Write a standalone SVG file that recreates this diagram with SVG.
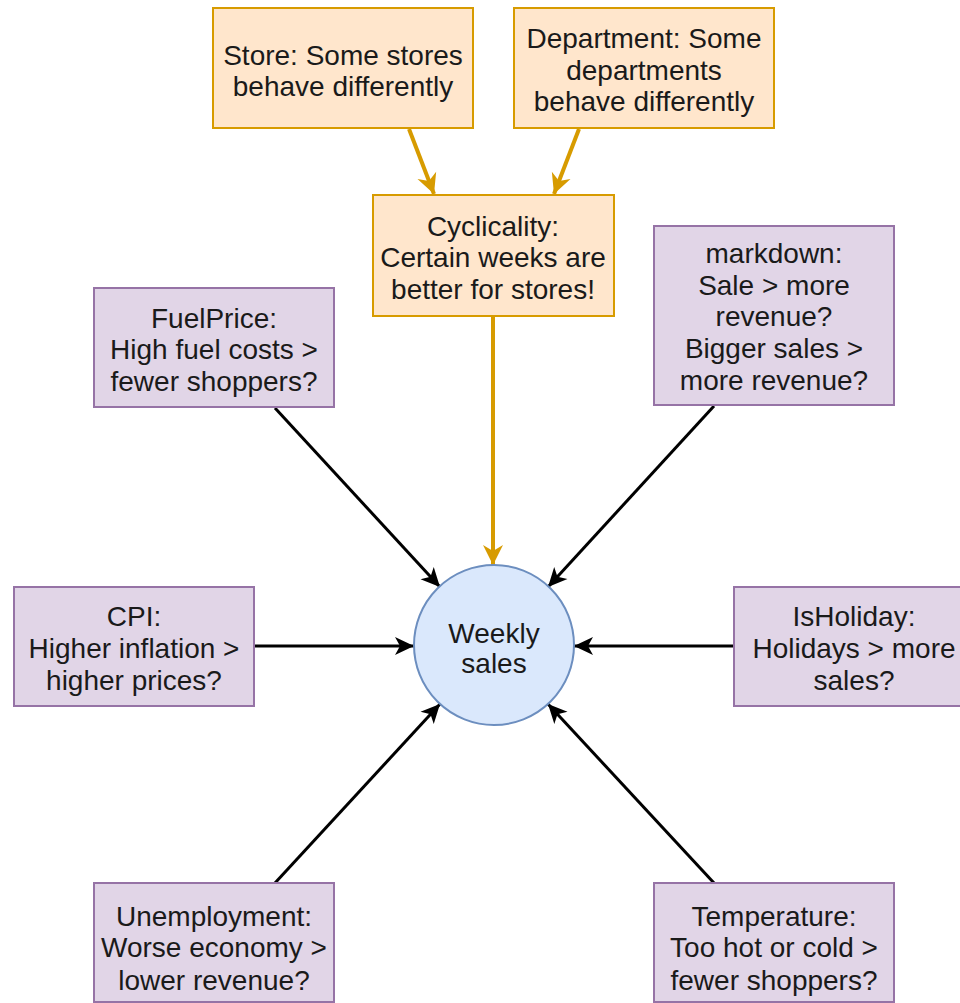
<svg xmlns="http://www.w3.org/2000/svg" width="960" height="1003" viewBox="0 0 960 1003">
<style>
.o{fill:#ffe6cc;stroke:#d79b00;stroke-width:2}
.p{fill:#e1d5e7;stroke:#9673a6;stroke-width:2}
.c{fill:#dae8fc;stroke:#6c8ebf;stroke-width:2}
text{font-family:"Liberation Sans",Arial,sans-serif;font-size:28px;fill:#1a1a1a;text-anchor:middle;dominant-baseline:central}
.eo{stroke:#d79b00;stroke-width:4;fill:none}
.eb{stroke:#000;stroke-width:3;fill:none}
</style>
<defs>
<marker id="ao" markerUnits="userSpaceOnUse" markerWidth="24" markerHeight="24" viewBox="0 0 24 24" refX="22" refY="12" orient="auto">
<path d="M2,2 L22,12 L2,22 L8,12 z" fill="#d79b00"/>
</marker>
<marker id="ab" markerUnits="userSpaceOnUse" markerWidth="22" markerHeight="22" viewBox="0 0 22 22" refX="21" refY="11" orient="auto">
<path d="M2,2 L21,11 L2,20 L7,11 z" fill="#000"/>
</marker>
</defs>
<g id="edges">
<line class="eo" x1="409" y1="129" x2="434" y2="194" marker-end="url(#ao)"/>
<line class="eo" x1="579" y1="129" x2="554" y2="194" marker-end="url(#ao)"/>
<line class="eo" x1="493" y1="317" x2="493" y2="565" marker-end="url(#ao)"/>
<line class="eb" x1="275" y1="408" x2="440" y2="587" marker-end="url(#ab)"/>
<line class="eb" x1="714" y1="406" x2="548" y2="587" marker-end="url(#ab)"/>
<line class="eb" x1="255" y1="646" x2="414" y2="646" marker-end="url(#ab)"/>
<line class="eb" x1="734" y1="646" x2="574" y2="646" marker-end="url(#ab)"/>
<line class="eb" x1="275" y1="883" x2="440" y2="704" marker-end="url(#ab)"/>
<line class="eb" x1="714" y1="883" x2="548" y2="704" marker-end="url(#ab)"/>
</g>
<g id="store"><rect class="o" x="213" y="8" width="260" height="120"/>
<text x="343" y="55">Store: Some stores</text><text x="343" y="86">behave differently</text></g>
<g id="department"><rect class="o" x="514" y="8" width="260" height="120"/>
<text x="644" y="38">Department: Some</text><text x="644" y="70">departments</text><text x="644" y="101">behave differently</text></g>
<g id="cyclicality"><rect class="o" x="373" y="195" width="241" height="121"/>
<text x="493" y="226">Cyclicality:</text><text x="493" y="257">Certain weeks are</text><text x="493" y="289">better for stores!</text></g>
<g id="fuelprice"><rect class="p" x="94" y="288" width="240" height="119"/>
<text x="214" y="318">FuelPrice:</text><text x="214" y="349">High fuel costs &gt;</text><text x="214" y="381">fewer shoppers?</text></g>
<g id="markdown"><rect class="p" x="654" y="226" width="240" height="179"/>
<text x="774" y="253">markdown:</text><text x="774" y="285">Sale &gt; more</text><text x="774" y="316">revenue?</text><text x="774" y="348">Bigger sales &gt;</text><text x="774" y="380">more revenue?</text></g>
<g id="cpi"><rect class="p" x="14" y="587" width="240" height="119"/>
<text x="134" y="616">CPI:</text><text x="134" y="648">Higher inflation &gt;</text><text x="134" y="680">higher prices?</text></g>
<g id="isholiday"><rect class="p" x="734" y="587" width="240" height="119"/>
<text x="854" y="616">IsHoliday:</text><text x="854" y="648">Holidays &gt; more</text><text x="854" y="680">sales?</text></g>
<g id="unemployment"><rect class="p" x="94" y="883" width="240" height="119"/>
<text x="214" y="916">Unemployment:</text><text x="214" y="947">Worse economy &gt;</text><text x="214" y="980">lower revenue?</text></g>
<g id="temperature"><rect class="p" x="654" y="883" width="240" height="119"/>
<text x="774" y="916">Temperature:</text><text x="774" y="947">Too hot or cold &gt;</text><text x="774" y="980">fewer shoppers?</text></g>
<g id="weekly"><circle class="c" cx="494" cy="645" r="80"/>
<text x="494" y="633">Weekly</text><text x="494" y="663">sales</text></g>
</svg>
